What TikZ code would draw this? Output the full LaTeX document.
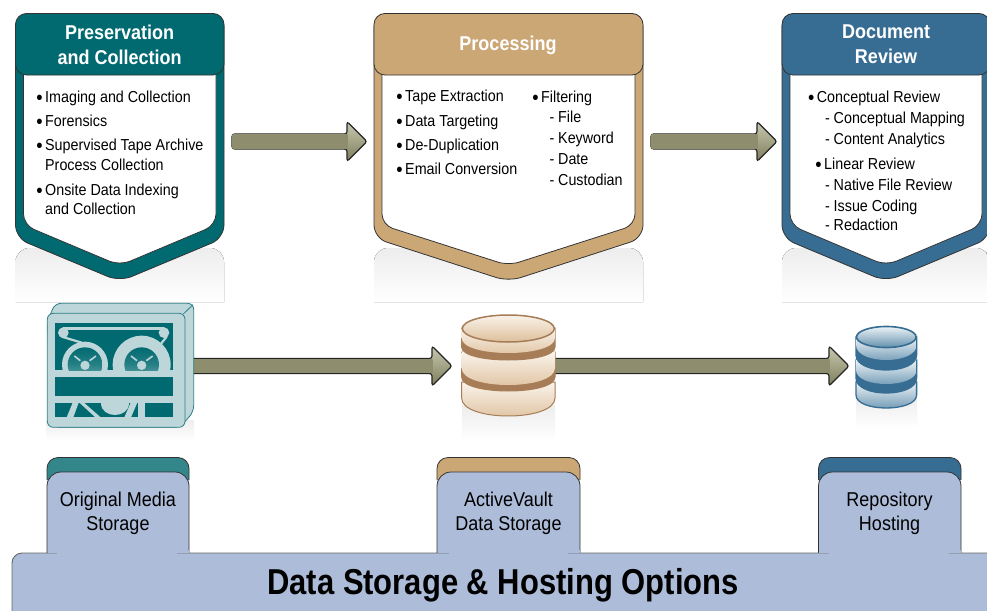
\documentclass[tikz,border=0pt]{standalone}
\usepackage{fontspec}
\setmainfont[FakeStretch=0.9]{Liberation Sans}
\newfontfamily\titlefont[FakeStretch=0.86]{Liberation Sans}
\usetikzlibrary{calc}
\definecolor{teal1}{HTML}{006A70}
\definecolor{teal2}{HTML}{33868A}
\definecolor{tan1}{HTML}{CCA776}
\definecolor{blue1}{HTML}{376D93}
\definecolor{face}{HTML}{ADBDD9}
\definecolor{edge}{HTML}{333333}
\definecolor{tapel}{HTML}{BCD6DA}
\definecolor{tapee}{HTML}{2E7F86}
\definecolor{cyltan}{HTML}{A67D57}
\definecolor{cyltanl}{HTML}{FAF3EA}
\definecolor{cyltand}{HTML}{DDBF9B}
\definecolor{cylblu}{HTML}{376D93}
\definecolor{cylblul}{HTML}{EDF3F6}
\definecolor{cylblud}{HTML}{6290AE}
\definecolor{olive1}{HTML}{8E8E6E}
\definecolor{olive2}{HTML}{BFBFA7}
\definecolor{olive3}{HTML}{C8C8B0}
\definecolor{olive4}{HTML}{7E7E5C}
\tikzset{
  reflect/.style={top color=black!7,bottom color=white,draw=none},
  paneltext/.style={anchor=base west,inner sep=0pt,font=\fontsize{15.9}{18}\selectfont,text=black},
  markbul/.style={anchor=base east,inner sep=0pt,font=\fontsize{15.9}{18}\selectfont},
  bigbul/.style={anchor=base east,inner sep=0pt,font=\fontsize{20}{20}\selectfont},
  headtext/.style={inner sep=0pt,align=center,text=white,font=\fontsize{20}{25.2}\selectfont\bfseries},
  tabtext/.style={inner sep=0pt,align=center,text=black,font=\fontsize{20}{24}\selectfont},
  blockarrow/.style={draw=black!85,line width=1.2pt,rounded corners=2.5pt,top color=olive3,bottom color=olive4},
  arrowshaft/.style={top color=olive1,middle color=olive2,bottom color=olive1},
}
\newcommand\panelshape[4]{%L R color name
  \pgfmathsetmacro\cxp{(#1+#2)/2}
  \fill[reflect,rounded corners=14pt] (#1,302) -- (#1,248) -- (#2,248) -- (#2,302);
  \path[fill=#3,draw=edge,line width=.8pt,rounded corners=13pt]
    (#1,13.5) -- (#1,238) -- (\cxp,281.5) -- (#2,238) -- (#2,13.5) -- cycle;
  \path[fill=white,draw=edge,line width=.8pt,rounded corners=11pt]
    ({#1+8},60) -- ({#1+8},225) -- (\cxp,265.5) -- ({#2-8},225) -- ({#2-8},60) -- cycle;
  \path[fill=#3,draw=edge,line width=.8pt,rounded corners=11pt]
    (#1,13.5) -- (#1,75) -- (#2,75) -- (#2,13.5) -- cycle;
}
\newcommand\arrowshape[2]{%
  \path[blockarrow] ($(#1)+(0,-7.5)$) -- ($(#2)+(-20,-7.5)$) -- ($(#2)+(-20,-20)$) -- (#2) -- ($(#2)+(-20,20)$) -- ($(#2)+(-20,7.5)$) -- ($(#1)+(0,7.5)$) -- cycle;
  \path[arrowshaft] ($(#1)+(0.6,-6.9)$) rectangle ($(#2)+(-19.4,6.9)$);
}
\newcommand\cylpart[6]{%cx rx yt yb ybot style
  \pgfmathsetmacro\cyc{#4+1.333*(#5-#4)}
  \path[#6] ({#1-#2},#3) -- ({#1-#2},#4) .. controls ({#1-#2},\cyc) and ({#1+#2},\cyc) .. ({#1+#2},#4) -- ({#1+#2},#3) -- cycle;
}
\newcommand\itm[4]{\node[paneltext] (#1) at (#2,#3) {#4};\node[bigbul] at ($(#1.base west)+(-2.2,2.1)$) {•};}
\newcommand\sub[4]{\node[paneltext] (#1) at (#2,#3) {#4};\node[markbul] at ($(#1.base west)+(-3.4,0)$) {-};}
\newcommand\tabshape[3]{%L R color
  \path[fill=#3,draw=edge,line width=.8pt,rounded corners=11pt] (#1,480) -- (#1,457.5) -- (#2,457.5) -- (#2,480);
  \path[fill=face,draw=edge,line width=.8pt,rounded corners=14pt] (#1,560) -- (#1,472) -- (#2,472) -- (#2,560);
}
\begin{document}
\begin{tikzpicture}[x=1pt,y=-1pt]
\useasboundingbox (0,0) rectangle (987,610);
\fill[white] (0,0) rectangle (987,610);

% panels
\panelshape{15.5}{224}{teal1}{p1}
\panelshape{374}{643}{tan1}{p2}
\panelshape{782}{990}{blue1}{p3}

\node[headtext] (h1) at (119.7,44.5) {Preservation\\and Collection};
\node[headtext] (h2) at (508,45) {Processing};
\node[headtext] (h3) at (886,44) {Document\\Review};

\itm{a1}{45}{102.5}{Imaging and Collection}
\itm{a2}{45}{126.5}{Forensics}
\itm{a3}{45}{150.7}{Supervised Tape Archive}
\node[paneltext] (a3b) at (45,170.7) {Process Collection};
\itm{a4}{45}{195}{Onsite Data Indexing}
\node[paneltext] (a4b) at (45,214) {and Collection};

\itm{b1}{405}{101.7}{Tape Extraction}
\itm{b2}{405}{126}{Data Targeting}
\itm{b3}{405}{150}{De-Duplication}
\itm{b4}{405}{174.5}{Email Conversion}
\itm{b5}{541}{102}{Filtering}
\sub{b6}{558}{122.5}{File}
\sub{b7}{558}{143}{Keyword}
\sub{b8}{558}{164}{Date}
\sub{b9}{558}{185}{Custodian}

\itm{c1}{816.7}{102}{Conceptual Review}
\sub{c2}{833.5}{123}{Conceptual Mapping}
\sub{c3}{833.5}{144}{Content Analytics}
\itm{c4}{824}{169}{Linear Review}
\sub{c5}{833.5}{190}{Native File Review}
\sub{c6}{833.5}{211}{Issue Coding}
\sub{c7}{833.5}{230}{Redaction}

% upper arrows
\coordinate (u1s) at (232,141.5);
\coordinate (u1e) at (367,141.5);
\coordinate (u2s) at (651,141.5);
\coordinate (u2e) at (777,141.5);
\arrowshape{u1s}{u1e}
\arrowshape{u2s}{u2e}

% reflections under the icons
\fill[reflect] (46,420) rectangle (194,441);
\fill[reflect] (462,405) rectangle (555,442);
\fill[reflect] (856,398) rectangle (917,428);

% lower arrows
\coordinate (l1s) at (190,366);
\coordinate (l1e) at (452,366);
\coordinate (l2s) at (550,366);
\coordinate (l2e) at (849,366);
\arrowshape{l1s}{l1e}
\arrowshape{l2s}{l2e}

% tape icon, drawn in units of a third of a pixel
\begin{scope}[shift={(20,290)},x=1/3*1pt,y=-1/3*1pt]
  \path[fill=tapel,draw=tapee,line width=.8pt,rounded corners=6pt]
    (82,95) -- (105,40) -- (521,40) -- (521,365) -- (480,412) -- (100,412) -- cycle;
  \path[fill=tapel,draw=tapee,line width=.8pt,rounded corners=6pt]
    (82,70) rectangle (495,412);
  \draw[tapee,line width=.8pt] (490,72) -- (519,44);
  \fill[teal1] (105,100) rectangle (460,240);
  \fill[teal1] (105,262) rectangle (460,318);
  \fill[teal1] (105,338) rectangle (460,382);
  \begin{scope}
    \clip (105,100) rectangle (460,240);
    \draw[tapel,line width=2.6pt,line cap=round] (130,116) -- (432,116);
    \fill[tapel] (130,128) circle (16);
    \fill[tapel] (432,128) circle (16);
    \draw[tapel,line width=2.2pt] (125,140) -- (185,158);
    \draw[tapel,line width=2.2pt] (440,140) -- (420,165);
    \fill[tapel] (195,224) circle (69);
    \fill[tapel] (365,224) circle (87);
    \shade[top color=teal1,bottom color=teal1!35!tapel,middle color=teal1!85!white] (195,224) circle (52);
    \shade[top color=teal1,bottom color=teal1!35!tapel,middle color=teal1!85!white] (365,224) circle (52);
    \fill[tapel] (195,226) circle (14);
    \fill[tapel] (365,226) circle (14);
    \draw[tapel,line width=1.6pt] (163,198) -- (181,212);
    \draw[tapel,line width=1.6pt] (228,198) -- (209,212);
    \draw[tapel,line width=1.6pt] (333,198) -- (351,212);
    \draw[tapel,line width=1.6pt] (398,198) -- (379,212);
  \end{scope}
  \fill[tapel] (158,338) -- (176,338) -- (160,382) -- (140,382) -- cycle;
  \fill[tapel] (178,338) -- (192,338) -- (242,382) -- (226,382) -- cycle;
  \fill[tapel] (243,338) .. controls (243,388) and (327,388) .. (327,338) -- cycle;
  \fill[tapel] (332,338) -- (352,338) -- (333,382) -- (313,382) -- cycle;
  \fill[tapel] (355,338) rectangle (375,382);
\end{scope}

% tan cylinder
\cylpart{508.3}{46.7}{382}{398}{416}{top color=cyltanl,bottom color=cyltand,draw=cyltan,line width=1pt}
\cylpart{508.3}{46.7}{352}{377}{391}{fill=cyltan,draw=cyltan,line width=1pt}
\cylpart{508.3}{46.7}{352}{368}{385}{top color=cyltanl,bottom color=cyltand}
\cylpart{508.3}{46.7}{328}{347}{360}{fill=cyltan,draw=cyltan,line width=1pt}
\cylpart{508.3}{46.7}{328}{338}{353}{top color=cyltanl,bottom color=cyltand}
\path[top color=cyltanl,bottom color=cyltand,draw=cyltan,line width=1.5pt] (508.3,328.5) ellipse [x radius=46,y radius=13.5];

% blue cylinder
\cylpart{886.3}{30.3}{382}{395}{408}{top color=cylblul,bottom color=cylblud,draw=cylblu,line width=1.3pt}
\cylpart{886.3}{30.3}{360}{378}{393}{fill=cylblu,draw=cylblu,line width=1.3pt}
\cylpart{886.3}{30.3}{360}{370}{384}{top color=cylblul,bottom color=cylblud}
\cylpart{886.3}{30.3}{337}{355}{370}{fill=cylblu,draw=cylblu,line width=1.3pt}
\cylpart{886.3}{30.3}{337}{345}{360}{top color=cylblul,bottom color=cylblud}
\path[top color=cylblul,bottom color=cylblud,draw=cylblu,line width=1.6pt] (886.3,337) ellipse [x radius=29.8,y radius=10.5];

% tabs
\tabshape{47}{189}{teal2}
\tabshape{437}{580}{tan1}
\tabshape{818.5}{961}{blue1}

% base bar
\path[fill=face,draw=black!60,line width=.9pt,rounded corners=10pt] (12,630) -- (12,553) -- (1010,553) -- (1010,630) -- cycle;
\fill[face] (57,552) rectangle (177,556);
\fill[face] (449,552) rectangle (568,556);
\fill[face] (829,552) rectangle (948.5,556);
\fill[face] (47.5,550) rectangle (188.5,553);
\fill[face] (437.5,550) rectangle (579.5,553);
\fill[face] (819,550) rectangle (960.5,553);

\node[tabtext] (t1) at (118,513) {Original Media\\Storage};
\node[tabtext] (t2) at (508.5,513) {ActiveVault\\Data Storage};
\node[tabtext] (t3) at (889.5,513) {Repository\\Hosting};
\node[inner sep=0pt,font=\titlefont\fontsize{36}{40}\selectfont\bfseries,text=black] (bar) at (503,585) {Data Storage \& Hosting Options};
\end{tikzpicture}
\end{document}
